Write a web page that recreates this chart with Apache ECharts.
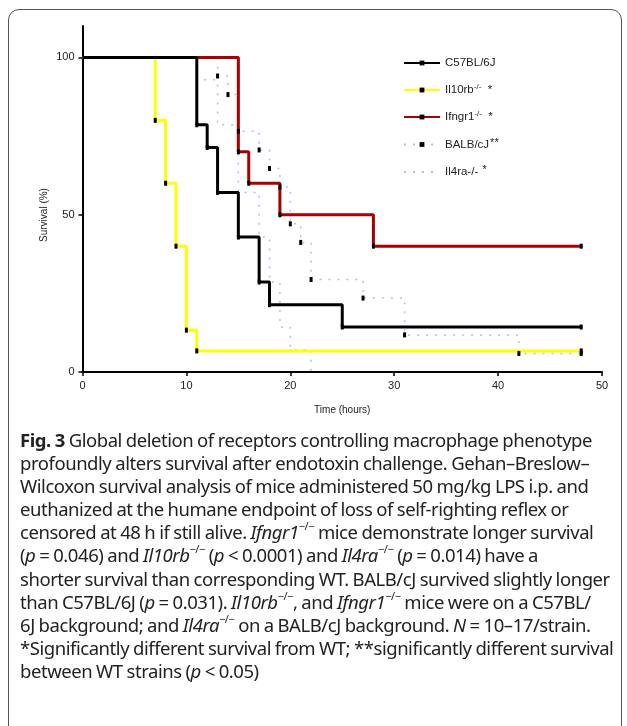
<!DOCTYPE html>
<html>
<head>
<meta charset="utf-8">
<script src="https://cdn.jsdelivr.net/npm/echarts@6/dist/echarts.min.js"></script>
<style>
	html, body { margin: 0; padding: 0; background: #fff; }
	#wrap { position: relative; width: 627px; height: 726px; overflow: hidden; }
	#frame { position: absolute; left: 8px; top: 9px; width: 612px; height: 730px; border: 1.5px solid #555; border-radius: 11px; }
	#main { position: absolute; left: 0; top: 0; width: 627px; height: 726px; }
	#caption { position: absolute; left: 20px; top: 428px; font-family: "Noto Sans", sans-serif; font-size: 18.5px; color: #222; letter-spacing: -0.45px; word-spacing: -0.5px; }
	#caption div { height: 23.1px; line-height: 23.1px; white-space: nowrap; }
	#caption sup { font-size: 11px; line-height: 0; position: relative; top: -2px; }
</style>
</head>
<body>
<div id="wrap">
	<div id="frame"></div>
	<div id="main"></div>
	<div id="caption">
		<div><b>Fig. 3</b> Global deletion of receptors controlling macrophage phenotype</div>
		<div>profoundly alters survival after endotoxin challenge. Gehan–Breslow–</div>
		<div>Wilcoxon survival analysis of mice administered 50 mg/kg LPS i.p. and</div>
		<div>euthanized at the humane endpoint of loss of self-righting reflex or</div>
		<div>censored at 48 h if still alive. <i>Ifngr1</i><sup>−/−</sup> mice demonstrate longer survival</div>
		<div>(<i>p</i> = 0.046) and <i>Il10rb</i><sup>−/−</sup> (<i>p</i> &lt; 0.0001) and <i>Il4ra</i><sup>−/−</sup> (<i>p</i> = 0.014) have a</div>
		<div>shorter survival than corresponding WT. BALB/cJ survived slightly longer</div>
		<div>than C57BL/6J (<i>p</i> = 0.031). <i>Il10rb</i><sup>−/−</sup>, and <i>Ifngr1</i><sup>−/−</sup> mice were on a C57BL/</div>
		<div>6J background; and <i>Il4ra</i><sup>−/−</sup> on a BALB/cJ background. <i>N</i> = 10–17/strain.</div>
		<div>*Significantly different survival from WT; **significantly different survival</div>
		<div>between WT strains (<i>p</i> &lt; 0.05)</div>
	</div>
</div>
<script>
// 各品系的生存数据（时间 h / 存活率 %）
var c57Time = [0, 11, 12, 13, 15, 17, 18, 25, 48];
var c57Surv = [100, 78.6, 71.4, 57.1, 42.9, 28.6, 21.4, 14.3, 14.3];

var il10rbTime = [0, 7, 8, 9, 10, 11, 48];
var il10rbSurv = [100, 80, 60, 40, 13.3, 6.7, 6.7];

var ifngr1Time = [0, 15, 16, 19, 28, 48];
var ifngr1Surv = [100, 70, 60, 50, 40, 40];

var balbTime = [0, 13, 14, 15, 17, 18, 19, 20, 21, 22, 27, 31, 42, 48];
var balbSurv = [100, 94.1, 88.2, 76.5, 70.6, 64.7, 58.8, 47.1, 41.2, 29.4, 23.5, 11.8, 5.9, 5.9];

var il4raTime = [0, 11, 13, 15, 17, 18, 19, 20, 22];
var il4raSurv = [100, 92.9, 78.6, 57.1, 42.9, 28.6, 14.3, 7.1, 0];

var xTicks = [0, 10, 20, 30, 40, 50];
var yTicks = [0, 50, 100];

var lavender = '#b9b9ef';

// 拼成 [x, y]，起点不画标记
function pts(t, s) {
	return t.map(function(x, i) {
		return i === 0 ? { value: [x, s[i]], symbol: 'none' } : [x, s[i]];
	});
}

function line(name, t, s, color, width, type, mark) {
	return {
		name: name,
		type: 'line',
		step: 'end',
		data: pts(t, s),
		symbol: mark ? 'rect' : 'none',
		symbolSize: [3, 5],
		showAllSymbol: true,
		itemStyle: { color: mark ? '#000' : color },
		lineStyle: { color: color, width: width, type: type },
		emphasis: { disabled: true }
	};
}

var legendLabel = {
	'C57BL/6J': '{n|C57BL/6J}',
	'Il10rb-/-': '{n|Il10rb}{sup|-/-}{n|  *}',
	'Ifngr1-/-': '{n|Ifngr1}{sup|-/-}{n|  *}',
	'BALB/cJ': '{n|BALB/cJ}{st|**}',
	'Il4ra-/-': '{n|Il4ra-/- }{st|*}'
};

var myChart = echarts.init(document.getElementById('main'));

var option = {
	animation: false,
	grid: { left: 82.5, right: 25, top: 26, bottom: 354 },
	legend: {
		orient: 'vertical',
		left: 398,
		top: 52,
		itemWidth: 36,
		itemHeight: 6,
		itemGap: 14,
		data: ['C57BL/6J', 'Il10rb-/-', 'Ifngr1-/-', 'BALB/cJ', { name: 'Il4ra-/-', itemStyle: { opacity: 0 } }],
		formatter: function(name) { return legendLabel[name]; },
		textStyle: {
			rich: {
				n: { fontFamily: 'Liberation Sans', fontSize: 11.5, color: '#222' },
				sup: { fontFamily: 'Liberation Sans', fontSize: 8, color: '#222', verticalAlign: 'top', padding: [0, 0, 6, 0] },
				st: { fontFamily: 'Liberation Sans', fontSize: 11, color: '#222', verticalAlign: 'top', padding: [0, 0, 4, 1] }
			}
		}
	},
	xAxis: {
		type: 'value',
		min: 0,
		max: 50,
		interval: 10,
		splitLine: { show: false },
		axisLine: { lineStyle: { color: '#000', width: 2 } },
		axisTick: { length: 4, lineStyle: { color: '#000', width: 1.5 }, customValues: xTicks },
		axisLabel: { color: '#222', fontSize: 11, fontFamily: 'Liberation Sans', margin: 8, customValues: xTicks },
		name: 'Time (hours)',
		nameLocation: 'middle',
		nameGap: 33,
		nameTextStyle: { color: '#222', fontSize: 10, fontFamily: 'Liberation Sans' }
	},
	yAxis: {
		type: 'value',
		min: 0,
		max: 110,
		splitLine: { show: false },
		axisLine: { show: true, lineStyle: { color: '#000', width: 2 } },
		axisTick: { show: true, length: 4, lineStyle: { color: '#000', width: 1.5 }, customValues: yTicks },
		axisLabel: { color: '#222', fontSize: 11, fontFamily: 'Liberation Sans', margin: 8, customValues: yTicks }
	},
	graphic: [{
		type: 'text',
		x: 44,
		y: 215,
		rotation: Math.PI / 2,
		style: {
			text: 'Survival (%)',
			fill: '#222',
			font: '10px "Liberation Sans"',
			align: 'center',
			verticalAlign: 'middle'
		}
	}],
	series: [
		line('Il4ra-/-', il4raTime, il4raSurv, lavender, 1.5, [2, 7], false),
		line('BALB/cJ', balbTime, balbSurv, lavender, 1.5, [2, 7], true),
		line('Il10rb-/-', il10rbTime, il10rbSurv, '#ffff00', 3, 'solid', true),
		line('Ifngr1-/-', ifngr1Time, ifngr1Surv, '#a80000', 3, 'solid', true),
		line('C57BL/6J', c57Time, c57Surv, '#000', 3, 'solid', true)
	]
};

myChart.setOption(option);
</script>
</body>
</html>
